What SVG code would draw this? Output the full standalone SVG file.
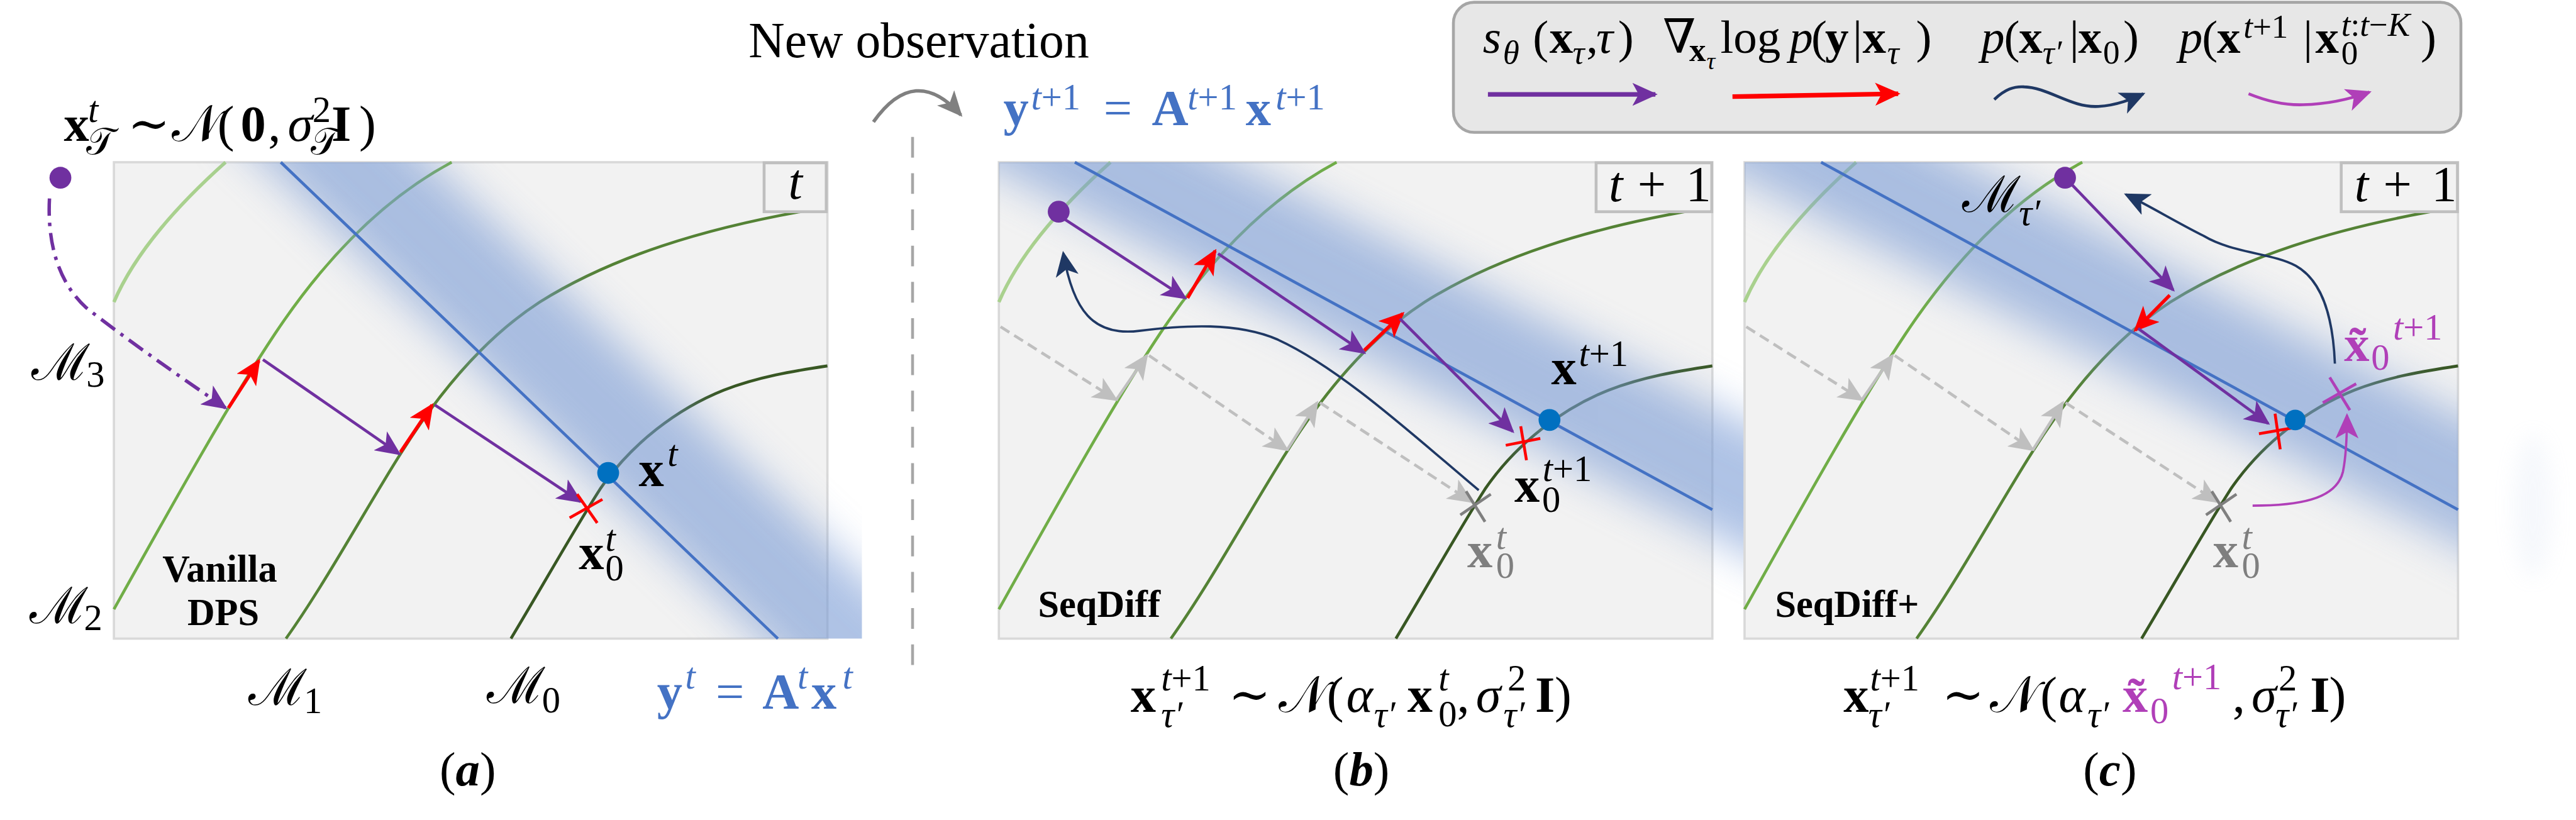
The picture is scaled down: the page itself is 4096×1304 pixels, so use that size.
<svg xmlns="http://www.w3.org/2000/svg" width="4096" height="1304" viewBox="0 0 4096 1304">
<defs>
<style>
.m{font-family:"Liberation Serif","DejaVu Serif",serif;font-size:88px;fill:#000}
.lg{font-size:82px}
.s{font-size:64px}
.ls{font-size:58px}
.lss{font-size:42px}
.b{font-weight:bold}
.i{font-style:italic}
.blue{fill:#4472c4}
.gray{fill:#7f7f7f}
.mag{fill:#b03fb8}
.tag{font-family:"Liberation Serif",serif;font-weight:bold;font-size:66px;fill:#000}
.panel{fill:#f2f2f2;stroke:#d9d9d9;stroke-width:4}
.tbox{fill:#f2f2f2;stroke:#bfbfbf;stroke-width:5}
.g1{fill:none;stroke:#a9d18e;stroke-width:6}
.g2{fill:none;stroke:#70ad47;stroke-width:5}
.g3{fill:none;stroke:#548235;stroke-width:5}
.g4{fill:none;stroke:#385723;stroke-width:5}
.band{fill:none;stroke:#789ad4;stroke-width:200;opacity:0.6}
.bl{fill:none;stroke:#4472c4;stroke-width:5}
.pa{fill:none;stroke:#7030a0;stroke-width:5;marker-end:url(#mP)}
.ra{fill:none;stroke:#ff0000;stroke-width:6;marker-end:url(#mR)}
.na{fill:none;stroke:#1f3864;stroke-width:4;marker-end:url(#mN)}
.ma{fill:none;stroke:#b03fb8;stroke-width:4;marker-end:url(#mM)}
.ga{fill:none;stroke:#bfbfbf;stroke-width:5;marker-end:url(#mG)}
.gd{stroke-dasharray:18 10}
.xr{stroke:#ff0000;stroke-width:5}
.xg{stroke:#7f7f7f;stroke-width:5}
.xm{stroke:#b03fb8;stroke-width:5}
</style>
<filter id="blur" filterUnits="userSpaceOnUse" x="-200" y="-400" width="5000" height="2200"><feGaussianBlur stdDeviation="38"/></filter>
<filter id="blur2" filterUnits="userSpaceOnUse" x="4200" y="600" width="400" height="500"><feGaussianBlur stdDeviation="18"/></filter>
<marker id="mP" viewBox="0 0 44 40" refX="40" refY="20" markerWidth="44" markerHeight="40" markerUnits="userSpaceOnUse" orient="auto"><path d="M0,0 L44,20 L0,40 L11,20 z" fill="#7030a0"/></marker>
<marker id="mR" viewBox="0 0 44 40" refX="40" refY="20" markerWidth="44" markerHeight="40" markerUnits="userSpaceOnUse" orient="auto"><path d="M0,0 L44,20 L0,40 L11,20 z" fill="#ff0000"/></marker>
<marker id="mN" viewBox="0 0 44 40" refX="40" refY="20" markerWidth="44" markerHeight="40" markerUnits="userSpaceOnUse" orient="auto"><path d="M0,0 L44,20 L0,40 L11,20 z" fill="#1f3864"/></marker>
<marker id="mM" viewBox="0 0 44 40" refX="40" refY="20" markerWidth="44" markerHeight="40" markerUnits="userSpaceOnUse" orient="auto"><path d="M0,0 L44,20 L0,40 L11,20 z" fill="#b03fb8"/></marker>
<marker id="mG" viewBox="0 0 44 40" refX="40" refY="20" markerWidth="44" markerHeight="40" markerUnits="userSpaceOnUse" orient="auto"><path d="M0,0 L44,20 L0,40 L11,20 z" fill="#bfbfbf"/></marker>
<marker id="mO" viewBox="0 0 44 40" refX="40" refY="20" markerWidth="44" markerHeight="40" markerUnits="userSpaceOnUse" orient="auto"><path d="M0,0 L44,20 L0,40 L11,20 z" fill="#808080"/></marker>
<clipPath id="ca"><rect x="198" y="282" width="1300" height="828"/></clipPath>
<clipPath id="cb"><rect x="1736" y="282" width="1300" height="828"/></clipPath>
<clipPath id="cc"><rect x="3032" y="282" width="1240" height="828"/></clipPath>
<path id="cv1" d="M0,525 C30,455 90,375 194,282"/>
<path id="cv2" d="M0,1059 C100,880 200,700 280,580 C360,460 460,350 587,282"/>
<path id="cv3" d="M299,1110 C370,1010 440,880 500,786 C560,690 640,590 740,525 C860,450 1020,395 1240,360"/>
<path id="cv4" d="M690,1110 C750,1010 800,920 845,850 C900,770 980,710 1060,678 C1120,655 1180,645 1240,636"/>
<g id="ghost">
<line class="ga gd" x1="1739" y1="568" x2="1940" y2="695"/>
<line class="ga" x1="1940" y1="695" x2="1993" y2="618"/>
<line class="ga gd" x1="1997" y1="618" x2="2237" y2="782"/>
<line class="ga" x1="2237" y1="782" x2="2289" y2="700"/>
<line class="ga gd" x1="2294" y1="700" x2="2557" y2="872"/>
</g>
</defs>
<rect width="4096" height="1304" fill="#ffffff"/>
<g transform="scale(0.91489)">

<!-- header -->
<g id="header">
<text class="m" x="1301" y="100" style="font-size:87px">New observation</text>
<text class="m b blue"><tspan x="1744" y="218">y</tspan><tspan class="s" x="1792" y="190" style="font-weight:normal"><tspan class="i">t</tspan>+1</tspan><tspan x="1918" y="218" style="font-weight:normal">=</tspan><tspan x="2002" y="218">A</tspan><tspan class="s" x="2064" y="190" style="font-weight:normal"><tspan class="i">t</tspan>+1</tspan><tspan x="2165" y="218">x</tspan><tspan class="s" x="2217" y="190" style="font-weight:normal"><tspan class="i">t</tspan>+1</tspan></text>
<text class="m"><tspan class="b" x="111" y="245">x</tspan><tspan class="s i" x="153" y="212">t</tspan><tspan class="s" x="150" y="268">𝒯</tspan><tspan x="222" y="245">∼</tspan><tspan x="298" y="245">𝒩</tspan><tspan x="378" y="245">(</tspan><tspan class="b" x="418" y="245">0</tspan><tspan x="466" y="245">,</tspan><tspan class="i" x="500" y="245">σ</tspan><tspan class="s" x="543" y="212">2</tspan><tspan class="s" x="540" y="268">𝒯</tspan><tspan class="b" x="576" y="245">I</tspan><tspan x="624" y="245">)</tspan></text>
</g>

<g id="connectors-header">
<path d="M1518,212 Q1590,110 1670,200" fill="none" stroke="#808080" stroke-width="6" marker-end="url(#mO)"/>
<line x1="1586" y1="238" x2="1586" y2="1177" stroke="#a6a6a6" stroke-width="5" stroke-dasharray="36 27"/>
</g>

<!-- legend -->
<g id="legend">
<rect x="2526" y="4" width="1751" height="226" rx="36" fill="#e7e7e7" stroke="#a6a6a6" stroke-width="5"/>
<text class="m lg"><tspan class="i" x="2577" y="92">s</tspan><tspan class="ls i" x="2612" y="110">θ</tspan><tspan x="2664" y="92">(</tspan><tspan class="b" x="2693" y="92">x</tspan><tspan class="ls i" x="2733" y="110">τ</tspan><tspan x="2757" y="92">,</tspan><tspan class="i" x="2774" y="92">τ</tspan><tspan x="2812" y="92">)</tspan></text>
<text class="m lg"><tspan x="2890" y="92">∇</tspan><tspan class="ls b" x="2936" y="106">x</tspan><tspan class="lss i" x="2966" y="120">τ</tspan><tspan x="2990" y="92">log</tspan><tspan class="i" x="3110" y="92">p</tspan><tspan x="3148" y="92">(</tspan><tspan class="b" x="3172" y="92">y</tspan><tspan x="3220" y="92">|</tspan><tspan class="b" x="3237" y="92">x</tspan><tspan class="ls i" x="3280" y="110">τ</tspan><tspan x="3330" y="92">)</tspan></text>
<text class="m lg"><tspan class="i" x="3443" y="92">p</tspan><tspan x="3483" y="92">(</tspan><tspan class="b" x="3509" y="92">x</tspan><tspan class="ls i" x="3550" y="110">τ′</tspan><tspan x="3597" y="92">|</tspan><tspan class="b" x="3612" y="92">x</tspan><tspan class="ls" x="3655" y="110">0</tspan><tspan x="3690" y="92">)</tspan></text>
<text class="m lg"><tspan class="i" x="3787" y="92">p</tspan><tspan x="3827" y="92">(</tspan><tspan class="b" x="3853" y="92">x</tspan><tspan class="ls" x="3899" y="66"><tspan class="i">t</tspan>+1</tspan><tspan x="4003" y="92">|</tspan><tspan class="b" x="4024" y="92">x</tspan><tspan class="ls" x="4069" y="112">0</tspan><tspan class="ls" x="4069" y="62"><tspan class="i">t</tspan>:<tspan class="i">t</tspan>−<tspan class="i">K</tspan></tspan><tspan x="4207" y="92">)</tspan></text>
<g id="legend-arrows">
<line x1="2586" y1="164" x2="2877" y2="164" stroke="#7030a0" stroke-width="8" marker-end="url(#mP)"/>
<line x1="3011" y1="168" x2="3299" y2="163" stroke="#ff0000" stroke-width="8" marker-end="url(#mR)"/>
<path class="na" style="stroke-width:5" d="M3466,173 C3485,155 3500,150 3518,151 C3560,152 3600,188 3647,185 C3680,183 3705,172 3725,163"/>
<path class="ma" style="stroke-width:5" d="M3908,163 C3940,176 3975,183 4003,182 C4050,181 4085,172 4118,160"/>
</g>
</g>

<!-- panel a -->
<g id="panel-a">
<rect class="panel" x="198" y="282" width="1240" height="828"/>
<use href="#cv1" x="198" class="g1"/>
<use href="#cv2" x="198" class="g2"/>
<use href="#cv3" x="198" class="g3"/>
<use href="#cv4" x="198" class="g4"/>
<g clip-path="url(#ca)"><line class="band" filter="url(#blur)" x1="459" y1="144" x2="1611" y2="1248"/></g>
<line class="bl" x1="488" y1="282" x2="1352" y2="1110"/>
<rect class="tbox" x="1328" y="283" width="108" height="85"/>
<text class="m i" x="1370" y="345">t</text>
<g id="connectors-a">
<path class="pa" style="stroke-width:6;stroke-dasharray:30 12 6 12" d="M86,345 C82,420 100,490 150,535 C220,590 320,660 392,709"/>
<line class="ra" x1="397" y1="709" x2="450" y2="627"/>
<line class="pa" x1="457" y1="625" x2="694" y2="789"/>
<line class="ra" x1="696" y1="786" x2="751" y2="704"/>
<line class="pa" x1="756" y1="704" x2="1009" y2="872"/>
</g>
<line class="xr" x1="990" y1="900" x2="1047" y2="868"/>
<line class="xr" x1="1003" y1="859" x2="1038" y2="909"/>
<circle cx="1057" cy="822" r="19" fill="#0070c0"/>
<circle cx="105" cy="309" r="19" fill="#7030a0"/>
<text class="m"><tspan class="b" x="1110" y="845">x</tspan><tspan class="s i" x="1160" y="810">t</tspan></text>
<text class="m"><tspan class="b" x="1006" y="989">x</tspan><tspan class="s" x="1052" y="1009">0</tspan><tspan class="s i" x="1052" y="958">t</tspan></text>
<text class="tag" x="382" y="1011" text-anchor="middle">Vanilla</text>
<text class="tag" x="388" y="1086" text-anchor="middle">DPS</text>
<g id="label-M3"><text class="m" x="55" y="660">ℳ</text><text class="m s" x="150" y="672">3</text></g>
<g id="label-M2"><text class="m" x="51" y="1083">ℳ</text><text class="m s" x="146" y="1095">2</text></g>
<g id="label-M1"><text class="m" x="432" y="1225">ℳ</text><text class="m s" x="528" y="1240">1</text></g>
<g id="label-M0"><text class="m" x="846" y="1222">ℳ</text><text class="m s" x="942" y="1238">0</text></g>
<text class="m b blue"><tspan x="1142" y="1232">y</tspan><tspan class="s i" x="1191" y="1197" style="font-weight:normal">t</tspan><tspan x="1244" y="1232" style="font-weight:normal">=</tspan><tspan x="1325" y="1232">A</tspan><tspan class="s i" x="1386" y="1197" style="font-weight:normal">t</tspan><tspan x="1410" y="1232">x</tspan><tspan class="s i" x="1464" y="1197" style="font-weight:normal">t</tspan></text>
<text class="m" x="813" y="1365" text-anchor="middle" style="font-size:84px">(<tspan class="b i">a</tspan>)</text>
</g>

<!-- panel b -->
<g id="panel-b">
<rect class="panel" x="1736" y="282" width="1240" height="828"/>
<use href="#cv1" x="1736" class="g1"/>
<use href="#cv2" x="1736" class="g2"/>
<use href="#cv3" x="1736" class="g3"/>
<use href="#cv4" x="1736" class="g4"/>
<use href="#ghost"/>
<g clip-path="url(#cb)"><line class="band" filter="url(#blur)" x1="1571" y1="100" x2="3154" y2="909"/></g>
<line class="bl" x1="1868" y1="282" x2="2976" y2="886"/>
<rect class="tbox" x="2774" y="283" width="201" height="85"/>
<text class="m"><tspan class="i" x="2796" y="350">t</tspan><tspan x="2846" y="350">+</tspan><tspan x="2930" y="350">1</tspan></text>
<g id="connectors-b">
<path class="na" d="M2570,852 C2460,760 2330,640 2220,590 C2150,560 2060,565 1980,575 C1900,585 1865,540 1848,440"/>
<line class="pa" x1="1844" y1="377" x2="2060" y2="518"/>
<line class="ra" x1="2064" y1="518" x2="2112" y2="436"/>
<line class="pa" x1="2117" y1="441" x2="2371" y2="613"/>
<line class="ra" x1="2371" y1="609" x2="2438" y2="545"/>
<line class="pa" x1="2433" y1="554" x2="2629" y2="750"/>
</g>
<line class="xg" x1="2538" y1="895" x2="2591" y2="859"/>
<line class="xg" x1="2548" y1="854" x2="2581" y2="907"/>
<line class="xr" x1="2617" y1="774" x2="2677" y2="762"/>
<line class="xr" x1="2643" y1="741" x2="2653" y2="800"/>
<circle cx="2693" cy="730" r="19" fill="#0070c0"/>
<circle cx="1840" cy="368" r="19" fill="#7030a0"/>
<text class="m"><tspan class="b" x="2696" y="668">x</tspan><tspan class="s" x="2744" y="636"><tspan class="i">t</tspan>+1</tspan></text>
<text class="m"><tspan class="b" x="2632" y="872">x</tspan><tspan class="s" x="2680" y="890">0</tspan><tspan class="s" x="2681" y="836"><tspan class="i">t</tspan>+1</tspan></text>
<text class="m gray"><tspan class="b" x="2550" y="986">x</tspan><tspan class="s" x="2600" y="1004">0</tspan><tspan class="s i" x="2600" y="954">t</tspan></text>
<text class="tag" x="1804" y="1072">SeqDiff</text>
<text class="m"><tspan class="b" x="1965" y="1237">x</tspan><tspan class="s" x="2018" y="1200"><tspan class="i">t</tspan>+1</tspan><tspan class="s i" x="2018" y="1264">τ′</tspan><tspan x="2135" y="1237">∼</tspan><tspan x="2222" y="1237">𝒩</tspan><tspan x="2306" y="1237">(</tspan><tspan class="i" x="2340" y="1237">α</tspan><tspan class="s i" x="2388" y="1264">τ′</tspan><tspan class="b" x="2446" y="1237">x</tspan><tspan class="s" x="2500" y="1262">0</tspan><tspan class="s i" x="2500" y="1200">t</tspan><tspan x="2532" y="1237">,</tspan><tspan class="i" x="2565" y="1237">σ</tspan><tspan class="s" x="2620" y="1200">2</tspan><tspan class="s i" x="2613" y="1264">τ′</tspan><tspan class="b" x="2668" y="1237">I</tspan><tspan x="2702" y="1237">)</tspan></text>
<text class="m" x="2366" y="1365" text-anchor="middle" style="font-size:84px">(<tspan class="b i">b</tspan>)</text>
</g>

<!-- panel c -->
<g id="panel-c">
<rect class="panel" x="3032" y="282" width="1240" height="828"/>
<use href="#cv1" x="3032" class="g1"/>
<use href="#cv2" x="3032" class="g2"/>
<use href="#cv3" x="3032" class="g3"/>
<use href="#cv4" x="3032" class="g4"/>
<use href="#ghost" x="1296"/>
<g clip-path="url(#cc)"><line class="band" filter="url(#blur)" x1="2867" y1="115" x2="4450" y2="924"/></g>
<ellipse cx="4402" cy="880" rx="34" ry="125" fill="#b4c6e7" opacity="0.12" filter="url(#blur2)"/>
<line class="bl" x1="3165" y1="282" x2="4272" y2="886"/>
<rect class="tbox" x="4069" y="283" width="202" height="85"/>
<text class="m"><tspan class="i" x="4092" y="350">t</tspan><tspan x="4142" y="350">+</tspan><tspan x="4226" y="350">1</tspan></text>
<g id="connectors-c">
<path class="na" d="M4058,632 C4055,560 4040,490 3990,462 C3950,440 3880,440 3830,410 C3780,385 3740,360 3695,338"/>
<line class="pa" x1="3598" y1="318" x2="3777" y2="504"/>
<line class="ra" x1="3771" y1="513" x2="3711" y2="574"/>
<line class="pa" x1="3716" y1="571" x2="3942" y2="736"/>
<path class="ma" d="M3915,879 C3990,879 4060,870 4072,820 C4078,790 4079,760 4079,722"/>
</g>
<line class="xg" x1="3834" y1="895" x2="3887" y2="859"/>
<line class="xg" x1="3844" y1="854" x2="3877" y2="907"/>
<line class="xr" x1="3926" y1="754" x2="3989" y2="743"/>
<line class="xr" x1="3954" y1="719" x2="3963" y2="781"/>
<line class="xm" x1="4037" y1="700" x2="4095" y2="667"/>
<line class="xm" x1="4049" y1="656" x2="4084" y2="713"/>
<circle cx="3989" cy="730" r="18" fill="#0070c0"/>
<circle cx="3589" cy="309" r="19" fill="#7030a0"/>
<g id="label-Mtau"><text class="m" x="3410" y="368">ℳ</text><text class="m s i" x="3509" y="391">τ′</text></g>
<text class="m mag"><tspan class="b" x="4074" y="627">x̃</tspan><tspan class="s" x="4121" y="643">0</tspan><tspan class="s" x="4159" y="590"><tspan class="i">t</tspan>+1</tspan></text>
<text class="m gray"><tspan class="b" x="3846" y="986">x</tspan><tspan class="s" x="3896" y="1004">0</tspan><tspan class="s i" x="3896" y="954">t</tspan></text>
<text class="tag" x="3085" y="1072">SeqDiff+</text>
<text class="m"><tspan class="b" x="3204" y="1237">x</tspan><tspan class="s" x="3250" y="1200"><tspan class="i">t</tspan>+1</tspan><tspan class="s i" x="3247" y="1264">τ′</tspan><tspan x="3375" y="1237">∼</tspan><tspan x="3458" y="1237">𝒩</tspan><tspan x="3546" y="1237">(</tspan><tspan class="i" x="3578" y="1237">α</tspan><tspan class="s i" x="3628" y="1264">τ′</tspan><tspan class="b mag" x="3689" y="1237">x̃</tspan><tspan class="s mag" x="3737" y="1257">0</tspan><tspan class="s mag" x="3775" y="1198"><tspan class="i">t</tspan>+1</tspan><tspan x="3880" y="1237">,</tspan><tspan class="i" x="3913" y="1237">σ</tspan><tspan class="s" x="3960" y="1200">2</tspan><tspan class="s i" x="3955" y="1264">τ′</tspan><tspan class="b" x="4015" y="1237">I</tspan><tspan x="4048" y="1237">)</tspan></text>
<text class="m" x="3667" y="1365" text-anchor="middle" style="font-size:84px">(<tspan class="b i">c</tspan>)</text>
</g>

</g>
</svg>
